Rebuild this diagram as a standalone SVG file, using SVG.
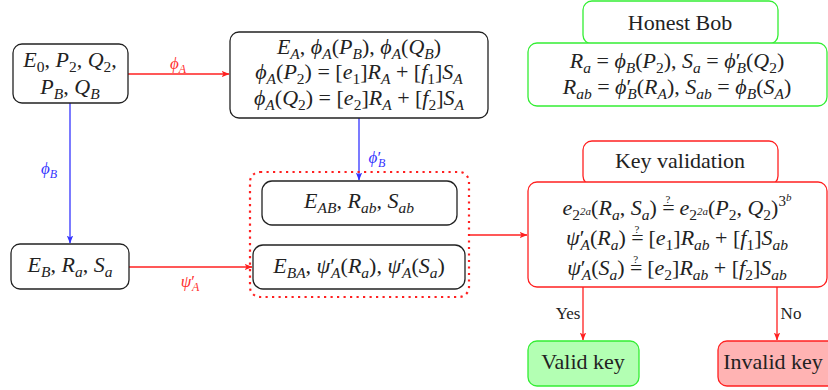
<svg xmlns="http://www.w3.org/2000/svg" width="828" height="390" viewBox="0 0 828 390" font-family="Liberation Serif">
<style>
text{font-family:'Liberation Serif',serif}
.mt{font-size:22px;fill:#222;text-anchor:middle}
.it{font-style:italic}
.sb{font-size:15.5px;baseline-shift:-5px}
.sp{font-size:15px;baseline-shift:9px}
.qm{font-size:11px;font-style:normal}
.el{font-size:17px;text-anchor:middle}
.kb{fill:#fff;stroke:#222;stroke-width:1.3}
.gb{fill:#fff;stroke:#33ee33;stroke-width:1.3}
.rb{fill:#fff;stroke:#ff2020;stroke-width:1.3}
.rl{stroke:#ff2020;stroke-width:1.3;fill:none}
.bl{stroke:#3333ff;stroke-width:1.3;fill:none}
</style>
<defs>
<marker id="ar" viewBox="0 0 8 8" refX="7.5" refY="4" markerWidth="8" markerHeight="8" markerUnits="userSpaceOnUse" orient="auto"><path d="M0,0.8 L8,4 L0,7.2 L2,4 Z" fill="#ff2020"/></marker>
<marker id="ab" viewBox="0 0 8 8" refX="7.5" refY="4" markerWidth="8" markerHeight="8" markerUnits="userSpaceOnUse" orient="auto"><path d="M0,0.8 L8,4 L0,7.2 L2,4 Z" fill="#3333ff"/></marker>
</defs>

<g id="connectors">
<line class="rl" x1="128" y1="74" x2="229" y2="74" marker-end="url(#ar)"/>
<text font-family="Liberation Serif" class="el" x="178" y="69" fill="#ff3030"><tspan class="it">ϕ</tspan><tspan class="it" font-size="12" baseline-shift="-4">A</tspan></text>
<line class="bl" x1="70" y1="103" x2="70" y2="243" marker-end="url(#ab)"/>
<text font-family="Liberation Serif" class="el" x="49" y="174" fill="#3333ff"><tspan class="it">ϕ</tspan><tspan class="it" font-size="12" baseline-shift="-4">B</tspan></text>
<line class="rl" x1="129" y1="267" x2="252" y2="267" marker-end="url(#ar)"/>
<text font-family="Liberation Serif" class="el" x="190" y="287" fill="#ff3030"><tspan class="it">ψ</tspan>′<tspan class="it" font-size="12" baseline-shift="-4" dx="-3">A</tspan></text>
<line class="bl" x1="359" y1="118" x2="359" y2="180" marker-end="url(#ab)"/>
<text font-family="Liberation Serif" class="el" x="377" y="163" fill="#3333ff"><tspan class="it">ϕ</tspan>′<tspan class="it" font-size="12" baseline-shift="-4" dx="-3">B</tspan></text>
<line class="rl" x1="469" y1="235" x2="527" y2="235" marker-end="url(#ar)"/>
<line class="rl" x1="583" y1="287" x2="583" y2="340" marker-end="url(#ar)"/>
<text font-family="Liberation Serif" class="el" x="568" y="319" font-size="14" fill="#222">Yes</text>
<line class="rl" x1="777" y1="287" x2="777" y2="340" marker-end="url(#ar)"/>
<text font-family="Liberation Serif" class="el" x="791" y="319" font-size="14" fill="#222">No</text>
</g>

<g id="n-start">
<rect class="kb" x="13" y="44" width="115" height="59" rx="9"/>
<text font-family="Liberation Serif" class="mt" x="70" y="67"><tspan class="it">E</tspan><tspan class="sb">0</tspan>, <tspan class="it">P</tspan><tspan class="sb">2</tspan>, <tspan class="it">Q</tspan><tspan class="sb">2</tspan>,</text>
<text font-family="Liberation Serif" class="mt" x="70" y="94"><tspan class="it">P</tspan><tspan class="sb it">B</tspan>, <tspan class="it">Q</tspan><tspan class="sb it">B</tspan></text>
</g>

<g id="n-alice">
<rect class="kb" x="230" y="32" width="258" height="86" rx="9"/>
<text font-family="Liberation Serif" class="mt" x="359" y="54"><tspan class="it">E</tspan><tspan class="sb it">A</tspan>, <tspan class="it">ϕ</tspan><tspan class="sb it">A</tspan>(<tspan class="it">P</tspan><tspan class="sb it">B</tspan>), <tspan class="it">ϕ</tspan><tspan class="sb it">A</tspan>(<tspan class="it">Q</tspan><tspan class="sb it">B</tspan>)</text>
<text font-family="Liberation Serif" class="mt" x="359" y="79"><tspan class="it">ϕ</tspan><tspan class="sb it">A</tspan>(<tspan class="it">P</tspan><tspan class="sb">2</tspan>) = [<tspan class="it">e</tspan><tspan class="sb">1</tspan>]<tspan class="it">R</tspan><tspan class="sb it">A</tspan> + [<tspan class="it">f</tspan><tspan class="sb">1</tspan>]<tspan class="it">S</tspan><tspan class="sb it">A</tspan></text>
<text font-family="Liberation Serif" class="mt" x="359" y="105"><tspan class="it">ϕ</tspan><tspan class="sb it">A</tspan>(<tspan class="it">Q</tspan><tspan class="sb">2</tspan>) = [<tspan class="it">e</tspan><tspan class="sb">2</tspan>]<tspan class="it">R</tspan><tspan class="sb it">A</tspan> + [<tspan class="it">f</tspan><tspan class="sb">2</tspan>]<tspan class="it">S</tspan><tspan class="sb it">A</tspan></text>
</g>

<g id="n-bob-title">
<rect class="gb" x="583" y="1" width="195" height="43" rx="9"/>
<text font-family="Liberation Serif" class="mt" x="680" y="30">Honest Bob</text>
</g>

<g id="n-bob">
<rect class="gb" x="528" y="43" width="299" height="63" rx="9"/>
<text font-family="Liberation Serif" class="mt" x="677" y="68"><tspan class="it">R</tspan><tspan class="sb it">a</tspan> = <tspan class="it">ϕ</tspan><tspan class="sb it">B</tspan>(<tspan class="it">P</tspan><tspan class="sb">2</tspan>), <tspan class="it">S</tspan><tspan class="sb it">a</tspan> = <tspan class="it">ϕ</tspan>′<tspan class="sb it" dx="-4">B</tspan>(<tspan class="it">Q</tspan><tspan class="sb">2</tspan>)</text>
<text font-family="Liberation Serif" class="mt" x="677" y="94"><tspan class="it">R</tspan><tspan class="sb it">ab</tspan> = <tspan class="it">ϕ</tspan>′<tspan class="sb it" dx="-4">B</tspan>(<tspan class="it">R</tspan><tspan class="sb it">A</tspan>), <tspan class="it">S</tspan><tspan class="sb it">ab</tspan> = <tspan class="it">ϕ</tspan><tspan class="sb it">B</tspan>(<tspan class="it">S</tspan><tspan class="sb it">A</tspan>)</text>
</g>

<g id="n-eb">
<rect class="kb" x="11" y="244" width="118" height="45" rx="9"/>
<text font-family="Liberation Serif" class="mt" x="70" y="272"><tspan class="it">E</tspan><tspan class="sb it">B</tspan>, <tspan class="it">R</tspan><tspan class="sb it">a</tspan>, <tspan class="it">S</tspan><tspan class="sb it">a</tspan></text>
</g>

<g id="n-group">
<rect x="250" y="172" width="219" height="125" rx="10" fill="none" stroke="#ff2020" stroke-width="2.2" stroke-dasharray="2.2 4.3"/>
</g>

<g id="n-eab">
<rect class="kb" x="262" y="181" width="195" height="44" rx="10"/>
<text font-family="Liberation Serif" class="mt" x="359" y="208"><tspan class="it">E</tspan><tspan class="sb it">AB</tspan>, <tspan class="it">R</tspan><tspan class="sb it">ab</tspan>, <tspan class="it">S</tspan><tspan class="sb it">ab</tspan></text>
</g>

<g id="n-eba">
<rect class="kb" x="253" y="245" width="212" height="44" rx="10"/>
<text font-family="Liberation Serif" class="mt" x="359" y="273"><tspan class="it">E</tspan><tspan class="sb it">BA</tspan>, <tspan class="it">ψ</tspan>′<tspan class="sb it" dx="-4">A</tspan>(<tspan class="it">R</tspan><tspan class="sb it">a</tspan>), <tspan class="it">ψ</tspan>′<tspan class="sb it" dx="-4">A</tspan>(<tspan class="it">S</tspan><tspan class="sb it">a</tspan>)</text>
</g>

<g id="n-kv-title">
<rect class="rb" x="583" y="141" width="195" height="44" rx="9"/>
<text font-family="Liberation Serif" class="mt" x="680" y="168" fill="#ff2020">Key validation</text>
</g>

<g id="n-kv">
<rect class="rb" x="528" y="182" width="299" height="105" rx="9"/>
<text font-family="Liberation Serif" class="mt" x="677" y="215"><tspan class="it">e</tspan><tspan class="sb">2<tspan class="it" font-size="11" baseline-shift="5">2a</tspan></tspan>(<tspan class="it">R</tspan><tspan class="sb it">a</tspan>, <tspan class="it">S</tspan><tspan class="sb it">a</tspan>) =<tspan class="qm" dx="-9.2" dy="-12">?</tspan><tspan dx="3.6" dy="12"> </tspan><tspan class="it">e</tspan><tspan class="sb">2<tspan class="it" font-size="11" baseline-shift="5">2a</tspan></tspan>(<tspan class="it">P</tspan><tspan class="sb">2</tspan>, <tspan class="it">Q</tspan><tspan class="sb">2</tspan>)<tspan class="sp">3<tspan class="it" font-size="11" baseline-shift="5">b</tspan></tspan></text>
<text font-family="Liberation Serif" class="mt" x="677" y="245"><tspan class="it">ψ</tspan>′<tspan class="sb it" dx="-4">A</tspan>(<tspan class="it">R</tspan><tspan class="sb it">a</tspan>) =<tspan class="qm" dx="-9.2" dy="-12">?</tspan><tspan dx="3.6" dy="12"> </tspan>[<tspan class="it">e</tspan><tspan class="sb">1</tspan>]<tspan class="it">R</tspan><tspan class="sb it">ab</tspan> + [<tspan class="it">f</tspan><tspan class="sb">1</tspan>]<tspan class="it">S</tspan><tspan class="sb it">ab</tspan></text>
<text font-family="Liberation Serif" class="mt" x="677" y="275"><tspan class="it">ψ</tspan>′<tspan class="sb it" dx="-4">A</tspan>(<tspan class="it">S</tspan><tspan class="sb it">a</tspan>) =<tspan class="qm" dx="-9.2" dy="-12">?</tspan><tspan dx="3.6" dy="12"> </tspan>[<tspan class="it">e</tspan><tspan class="sb">2</tspan>]<tspan class="it">R</tspan><tspan class="sb it">ab</tspan> + [<tspan class="it">f</tspan><tspan class="sb">2</tspan>]<tspan class="it">S</tspan><tspan class="sb it">ab</tspan></text>
</g>

<g id="n-valid">
<rect x="528" y="341" width="111" height="45" rx="9" fill="#b3ffb3" stroke="#33ee33" stroke-width="1.3"/>
<text font-family="Liberation Serif" class="mt" x="583" y="369">Valid key</text>
</g>

<g id="n-invalid">
<rect x="718" y="341" width="120" height="45" rx="9" fill="#ffb3b3" stroke="#ff2020" stroke-width="1.3"/>
<text font-family="Liberation Serif" class="mt" x="773" y="369">Invalid key</text>
</g>
</svg>
